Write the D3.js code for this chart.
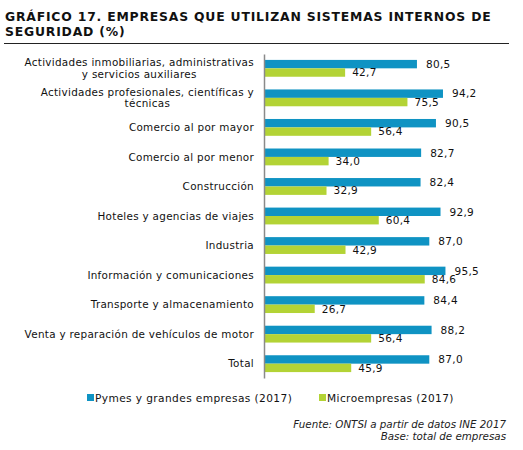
<!DOCTYPE html>
<html>
<head>
<meta charset="utf-8">
<script src="https://cdn.jsdelivr.net/npm/d3@7"></script>
<style>
  body { margin: 0; background: #fff; }
  svg { display: block; }
</style>
</head>
<body>
<svg id="chart" width="523" height="450"></svg>
<script>
const categories = [
  ["Actividades inmobiliarias, administrativas", "y servicios auxiliares"],
  ["Actividades profesionales, científicas y", "técnicas"],
  ["Comercio al por mayor"],
  ["Comercio al por menor"],
  ["Construcción"],
  ["Hoteles y agencias de viajes"],
  ["Industria"],
  ["Información y comunicaciones"],
  ["Transporte y almacenamiento"],
  ["Venta y reparación de vehículos de motor"],
  ["Total"]
];
const pymes = [80.5, 94.2, 90.5, 82.7, 82.4, 92.9, 87.0, 95.5, 84.4, 88.2, 87.0];
const micro = [42.7, 75.5, 56.4, 34.0, 32.9, 60.4, 42.9, 84.6, 26.7, 56.4, 45.9];
const seriesNames = ["Pymes y grandes empresas (2017)", "Microempresas (2017)"];
const colors = ["#0f93c3", "#b3d335"];
const titleLines = ["GRÁFICO 17. EMPRESAS QUE UTILIZAN SISTEMAS INTERNOS DE", "SEGURIDAD (%)"];
const sourceLines = ["Fuente: ONTSI a partir de datos INE 2017", "Base: total de empresas"];

const svg = d3.select("#chart");
const font = "Verdana, 'DejaVu Sans', sans-serif";
const fmt = v => v.toFixed(1).replace(".", ",");

// Title
svg.append("g").selectAll("text").data(titleLines).join("text")
  .attr("x", 5).attr("y", (d, i) => 21 + i * 15)
  .attr("font-family", font).attr("font-weight", "bold").attr("font-size", 12.4)
  .attr("letter-spacing", 0.8)
  .attr("fill", "#111").text(d => d);
svg.append("line").attr("x1", 4).attr("x2", 509).attr("y1", 43.5).attr("y2", 43.5)
  .attr("stroke", "#222").attr("stroke-width", 1.2);

const x = d3.scaleLinear().domain([0, 100]).range([264, 454]);
const idx = d3.range(categories.length);
const y = d3.scaleBand().domain(idx).range([54, 378]).paddingInner(0.43).paddingOuter(0.2);
const sub = d3.scaleBand().domain([0, 1]).range([0, y.bandwidth()]);

const data = idx.map(i => ({ i, vals: [pymes[i], micro[i]] }));

const g = svg.append("g");
const groups = g.selectAll("g.cat").data(data).join("g")
  .attr("transform", d => `translate(0,${y(d.i)})`);

groups.selectAll("rect").data(d => d.vals.map((v, s) => ({ v, s }))).join("rect")
  .attr("x", x(0)).attr("y", d => sub(d.s))
  .attr("width", d => x(d.v) - x(0)).attr("height", sub.bandwidth())
  .attr("fill", d => colors[d.s]);

groups.selectAll("text.val").data(d => d.vals.map((v, s) => ({ v, s }))).join("text")
  .attr("class", "val")
  .attr("x", d => x(d.v) + (d.s === 0 ? 9 : 7))
  .attr("y", d => sub(d.s) + sub.bandwidth() / 2)
  .attr("dy", "0.36em")
  .attr("font-family", font).attr("font-size", 10.5).attr("letter-spacing", 0.3).attr("fill", "#111")
  .text(d => fmt(d.v));

// Category labels
const labels = g.selectAll("text.cat").data(data).join("text")
  .attr("class", "cat")
  .attr("text-anchor", "middle")
  .attr("font-family", font).attr("font-size", 10.4).attr("letter-spacing", 0.3).attr("fill", "#111");
labels.each(function(d) {
  const lines = categories[d.i];
  const cy = y(d.i) + y.bandwidth() / 2;
  const t = d3.select(this);
  const n = lines.length;
  const tmp = t.append("tspan").text(lines[0]);
  const w0 = tmp.node().getComputedTextLength();
  tmp.remove();
  const right = 254;
  const centerX = right - w0 / 2;
  lines.forEach((ln, k) => {
    t.append("tspan")
      .attr("x", centerX)
      .attr("y", cy + (k - (n - 1) / 2) * 11.5)
      .attr("dy", "0.36em")
      .text(ln);
  });
});

// Axis line
const yAxis = d3.axisLeft(d3.scaleLinear().domain([0, 1]).range([54, 378])).ticks(0).tickSize(0).tickFormat("");
svg.append("g").attr("transform", `translate(${x(0)},0)`).call(yAxis)
  .call(a => a.select(".domain").attr("stroke", "#8a8a8a").attr("stroke-width", 1.5));

// Legend
const legX = [87, 319];
const leg = svg.append("g").selectAll("g").data(seriesNames).join("g")
  .attr("transform", (d, i) => `translate(${legX[i]},398)`);
leg.append("rect").attr("x", 0).attr("y", -4).attr("width", 7).attr("height", 7)
  .attr("fill", (d, i) => colors[i]);
leg.append("text").attr("x", 8).attr("y", 0).attr("dy", "0.36em")
  .attr("font-family", font).attr("font-size", 10.6).attr("letter-spacing", 0.4).attr("fill", "#111")
  .text(d => d);

// Source
svg.append("g").selectAll("text").data(sourceLines).join("text")
  .attr("x", 506).attr("y", (d, i) => 428 + i * 12)
  .attr("text-anchor", "end")
  .attr("font-family", font).attr("font-style", "italic").attr("font-size", 10.3)
  .attr("fill", "#222").text(d => d);
</script>
</body>
</html>
